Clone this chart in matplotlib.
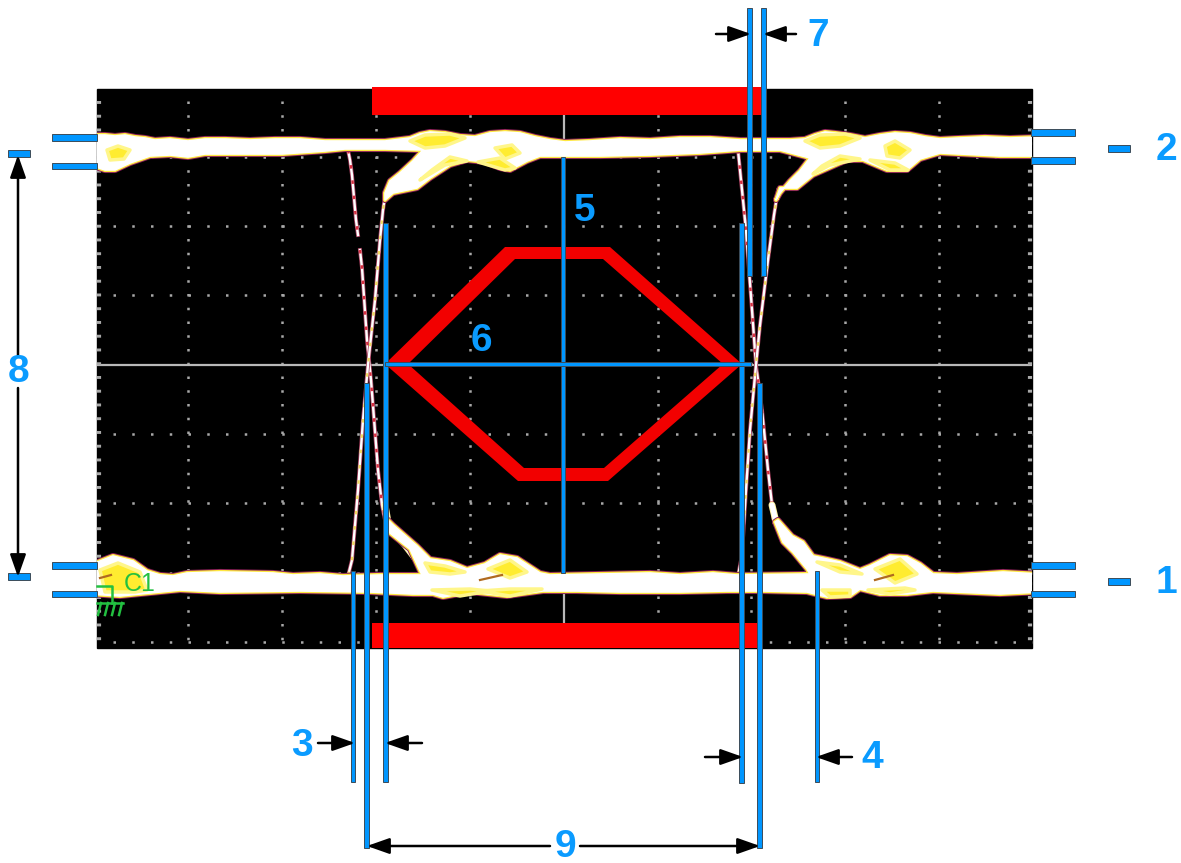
#!/usr/bin/env python
import matplotlib
matplotlib.use('Agg')
import matplotlib.pyplot as plt
from matplotlib.patches import Rectangle, Polygon, PathPatch
from matplotlib.path import Path

BLUE = '#0096ff'
RED = '#ff0000'

# scope screen, all in picture pixels
screen = (97, 89, 1032, 648)
grid_x = [188, 282, 376, 470, 658, 751, 845, 939]
grid_y = [157, 226, 295, 434, 503, 573, 642]
center_x = 564
center_y = 365

# top band outline, with the notch at each eye
top_band_x = [90, 105, 115, 125, 135, 145, 155, 170, 188, 205, 225, 250, 275, 300, 325, 345, 385, 410, 420, 430, 445, 460, 475, 490, 505, 520, 535, 550, 565, 590, 620, 650, 680, 710, 740, 790, 805, 815, 825, 835, 850, 865, 880, 895, 910, 925, 940, 960, 985, 1010, 1040,
              1040, 1000, 960, 940, 920, 907, 887, 863, 847, 813, 797, 780, 776, 780, 790, 800, 810, 780, 740, 700, 650, 600, 560, 540, 527, 510, 500, 485, 467, 450, 430, 417, 393, 385, 385, 390, 400, 413, 423, 385, 345, 325, 282, 250, 205, 188, 170, 150, 130, 115, 105, 90]
top_band_y = [135, 135, 136, 135, 137, 138, 140, 139, 141, 139, 139, 140, 139, 139, 141, 141, 141, 138, 134, 132, 133, 136, 137, 133, 132, 133, 137, 140, 142, 141, 139, 140, 138, 138, 140, 140, 139, 135, 132, 133, 135, 138, 135, 133, 134, 137, 139, 138, 137, 138, 137,
              156, 156, 154, 153, 159, 170, 170, 160, 160, 175, 188, 188, 200, 193, 181, 171, 158, 150, 150, 153, 155, 156, 156, 156, 161, 170, 168, 162, 160, 165, 178, 188, 193, 200, 193, 181, 173, 161, 150, 149, 149, 151, 154, 154, 154, 157, 155, 156, 163, 170, 170, 165]
top_spots = [([107, 118, 130, 124, 110], [150, 146, 150, 159, 160]),
             ([410, 425, 450, 465, 445, 425], [141, 135, 134, 138, 146, 148]),
             ([420, 445, 467, 450, 432], [180, 165, 161, 157, 170]),
             ([495, 512, 520, 505], [148, 145, 153, 159]),
             ([478, 505, 515, 500], [162, 170, 168, 158]),
             ([805, 820, 845, 860, 840, 820], [141, 135, 134, 138, 146, 148]),
             ([813, 830, 860, 840, 822], [174, 165, 159, 156, 166]),
             ([885, 895, 910, 900, 887], [146, 141, 150, 158, 156]),
             ([870, 890, 908, 895], [160, 170, 170, 163])]

# bottom band outline
bot_band_x = [90, 113, 133, 147, 160, 173, 187, 220, 273, 293, 320, 343, 380, 422, 410, 390, 388, 393, 417, 430, 450, 467, 485, 500, 517, 540, 550, 600, 650, 680, 713, 737, 810, 807, 793, 783, 775, 778, 792, 803, 813, 827, 840, 860, 870, 890, 907, 920, 933, 957, 1003, 1040,
              1040, 1000, 933, 907, 880, 860, 850, 827, 807, 763, 727, 680, 620, 577, 543, 507, 470, 443, 433, 413, 370, 300, 220, 180, 140, 120, 90]
bot_band_y = [565, 556, 561, 571, 575, 576, 573, 572, 573, 575, 574, 576, 575, 575, 549, 533, 520, 525, 546, 559, 562, 569, 564, 555, 558, 573, 575, 574, 573, 575, 573, 575, 574, 569, 552, 542, 522, 520, 536, 542, 556, 559, 562, 570, 566, 556, 557, 564, 574, 575, 572, 574,
              592, 594, 591, 594, 594, 589, 596, 597, 592, 591, 591, 592, 592, 591, 591, 596, 592, 597, 594, 594, 592, 591, 592, 590, 594, 596, 594]
bot_spots = [([100, 118, 140, 147, 135, 105], [570, 563, 572, 590, 592, 592]),
             ([425, 445, 465, 450, 430], [563, 566, 572, 574, 572]),
             ([432, 470, 490, 460], [590, 589, 591, 596]),
             ([488, 510, 527, 510], [569, 560, 572, 578]),
             ([480, 510, 542, 510], [591, 589, 589, 596]),
             ([817, 840, 862, 840], [562, 565, 574, 572]),
             ([822, 850, 850, 830], [590, 590, 596, 597]),
             ([875, 900, 917, 895], [569, 559, 574, 583]),
             ([868, 905, 915, 890], [590, 588, 590, 594])]
brown_marks = [([100, 111], [578, 575]), ([480, 502], [580, 575]), ([875, 893], [580, 575])]

# thin edges of the eye
fall_left_x = [348, 350, 352, 356, 358, float('nan'), 360, 362, 367, 371, 378, 382, 386]
fall_left_y = [150, 160, 175, 220, 235, float('nan'), 250, 268, 340, 380, 470, 505, 525]
rise_left_x = [386, 383, 380, 375, 368, 363, 358, 352, 348]
rise_left_y = [190, 210, 240, 300, 365, 420, 490, 560, 576]
fall_right_x = [738, 742, 746, 752, 756, 762, 768, 774]
fall_right_y = [150, 190, 230, 310, 365, 410, 470, 522]
rise_right_x = [778, 774, 768, 760, 756, 750, 746, 742, 738]
rise_right_y = [190, 215, 260, 325, 365, 430, 490, 555, 576]
# thick piece where the falling edge meets the bottom band
left_knee_x = [385, 388, 395, 405, 418]
left_knee_y = [505, 522, 534, 545, 562]
right_knee_x = [772, 776, 784, 795, 808]
right_knee_y = [505, 522, 534, 545, 562]

# red mask
mask_top = (372, 87, 762, 115)
mask_bot = (372, 623, 757, 648)
octagon_outer_x = [385, 505, 610, 742, 608, 518]
octagon_outer_y = [364, 247, 247, 364, 481, 481]
octagon_inner_x = [408, 515, 603, 723, 604, 524]
octagon_inner_y = [364, 259, 259, 364, 468, 468]

# blue bars: x0, y0, x1, y1
blue_bars = [(52, 134, 97, 141), (52, 163, 97, 169), (8, 150, 30, 157),
             (8, 573, 30, 580), (52, 562, 97, 569), (52, 591, 97, 597),
             (1031, 129, 1075, 136), (1031, 157, 1075, 164), (1108, 145, 1130, 152),
             (1031, 562, 1075, 569), (1031, 591, 1075, 597), (1108, 578, 1130, 585),
             (747, 8, 752, 276), (761, 8, 766, 276),
             (351, 571, 355, 782), (364, 383, 369, 848), (383, 223, 388, 782),
             (739, 223, 744, 783), (757, 383, 762, 848), (815, 571, 819, 782),
             (561, 157, 565, 573), (385, 362, 751, 366)]

# arrows: tail x, tail y, tip x, tip y
arrows = [(716, 34, 751, 34), (796, 34, 763, 34),
          (318, 743, 355, 743), (422, 743, 385, 743),
          (705, 757, 743, 757), (852, 757, 816, 757),
          (550, 846, 367, 846), (580, 846, 760, 846),
          (18, 356, 18, 155), (18, 388, 18, 577)]

labels = ['1', '2', '3', '4', '5', '6', '7', '8', '9']
label_x = [1166, 1166, 302, 872, 585, 481, 818, 19, 565]
label_y = [583, 150, 746, 758, 211, 341, 36, 372, 847]

fig = plt.figure(figsize=(11.81, 8.63), dpi=100)
ax = fig.add_axes([0, 0, 1, 1])
ax.set_xlim(0, 1181)
ax.set_ylim(863, 0)
ax.axis('off')

panel = Rectangle((screen[0], screen[1]), screen[2]-screen[0], screen[3]-screen[1], color='black', zorder=1)
ax.add_patch(panel)

# dotted graticule
dot = '#a8a8a8'
ax.vlines(grid_x, 101, 648, colors=dot, lw=1.8, linestyles=(0, (1, 4.5)), zorder=2)
ax.hlines(grid_y, 113, 1032, colors=dot, lw=1.8, linestyles=(0, (1, 6.5)), zorder=2)
ax.hlines([center_y], screen[0], screen[2], colors='#b8b8b8', lw=1.6, zorder=2)
ax.vlines([center_x], screen[1], screen[3], colors='#b8b8b8', lw=1.6, zorder=2)
ax.vlines([screen[0]+2, screen[2]-2], 101, 648, colors=dot, lw=3, linestyles=(0, (0.7, 2.6)), zorder=2)

# thin edges
for xs, ys, c in [(fall_left_x, fall_left_y, '#d83040'), (rise_left_x, rise_left_y, '#f0d860'),
                  (fall_right_x, fall_right_y, '#d83040'), (rise_right_x, rise_right_y, '#f0d860')]:
    ax.plot(xs, ys, color='#a84060', lw=2.8, zorder=3)
    ax.plot(xs, ys, color='white', lw=1.7, zorder=3)
    ax.plot(xs, ys, color=c, lw=1.7, ls=(0, (1.5, 5)), zorder=3)

for xs, ys in [(left_knee_x, left_knee_y), (right_knee_x, right_knee_y)]:
    ax.plot(xs, ys, color='#fff2a0', lw=5, zorder=3, solid_capstyle='round')
    ax.plot(xs, ys, color='white', lw=3.6, zorder=3, solid_capstyle='round')

# bands: dark fringe, yellow rim, white middle
for xs, ys in [(top_band_x, top_band_y), (bot_band_x, bot_band_y)]:
    pts = list(zip(xs, ys))
    fringe = Polygon(pts, fill=False, ec='#8a2058', lw=4.4, joinstyle='round', zorder=4)
    ax.add_patch(fringe)
    fringe.set_clip_path(panel)
    body = Polygon(pts, fc='white', ec='#ffe840', lw=3, joinstyle='round', zorder=5)
    ax.add_patch(body)
    body.set_clip_path(panel)
    core = Polygon(pts, fc='white', ec='white', lw=1.2, joinstyle='round', zorder=5)
    ax.add_patch(core)
    core.set_clip_path(panel)
for xs, ys in top_spots + bot_spots:
    ax.add_patch(Polygon(list(zip(xs, ys)), fc='#ffec30', ec='#fff68a', lw=2.5, joinstyle='round', zorder=6))
for xs, ys in brown_marks:
    ax.plot(xs, ys, color='#b06a20', lw=1.6, zorder=7)

# channel marker
green = '#22c040'
ax.text(140, 584, 'C1', color=green, fontsize=18, family='Liberation Sans', ha='center', va='center', zorder=8)
ax.plot([97, 112, 112], [586, 586, 603], color=green, lw=1.8, zorder=8)
ax.plot([97, 123], [603, 603], color=green, lw=1.8, zorder=8)
for tick_x in [101, 108, 115, 122]:
    ax.plot([tick_x, tick_x-3], [603, 615], color=green, lw=1.8, zorder=8)

# mask
for m in [mask_top, mask_bot]:
    ax.add_patch(Rectangle((m[0], m[1]), m[2]-m[0], m[3]-m[1], color=RED, lw=0, zorder=9))
outer = list(zip(octagon_outer_x, octagon_outer_y))
inner = list(zip(octagon_inner_x, octagon_inner_y))[::-1]
verts = outer + [outer[0]] + inner + [inner[0]]
codes = [Path.MOVETO] + [Path.LINETO]*(len(outer)-1) + [Path.CLOSEPOLY] + [Path.MOVETO] + [Path.LINETO]*(len(inner)-1) + [Path.CLOSEPOLY]
ax.add_patch(PathPatch(Path(verts, codes), fc='#f20000', ec='none', zorder=9))

for b in blue_bars:
    ax.add_patch(Rectangle((b[0], b[1]), b[2]-b[0], b[3]-b[1], fc=BLUE, ec='#3c4c58', lw=0.7, zorder=10))

for a in arrows:
    ax.annotate('', xy=(a[2], a[3]), xytext=(a[0], a[1]), zorder=11,
                arrowprops=dict(arrowstyle='-|>,head_length=0.85,head_width=0.3', mutation_scale=16,
                                color='black', lw=1.8, shrinkA=0, shrinkB=0))

for t, tx, ty in zip(labels, label_x, label_y):
    ax.text(tx, ty, t, color='#0a9bff', fontsize=28, fontweight='bold', family='Liberation Sans',
            ha='center', va='center', zorder=12)

fig.savefig('out.png', dpi=100)
